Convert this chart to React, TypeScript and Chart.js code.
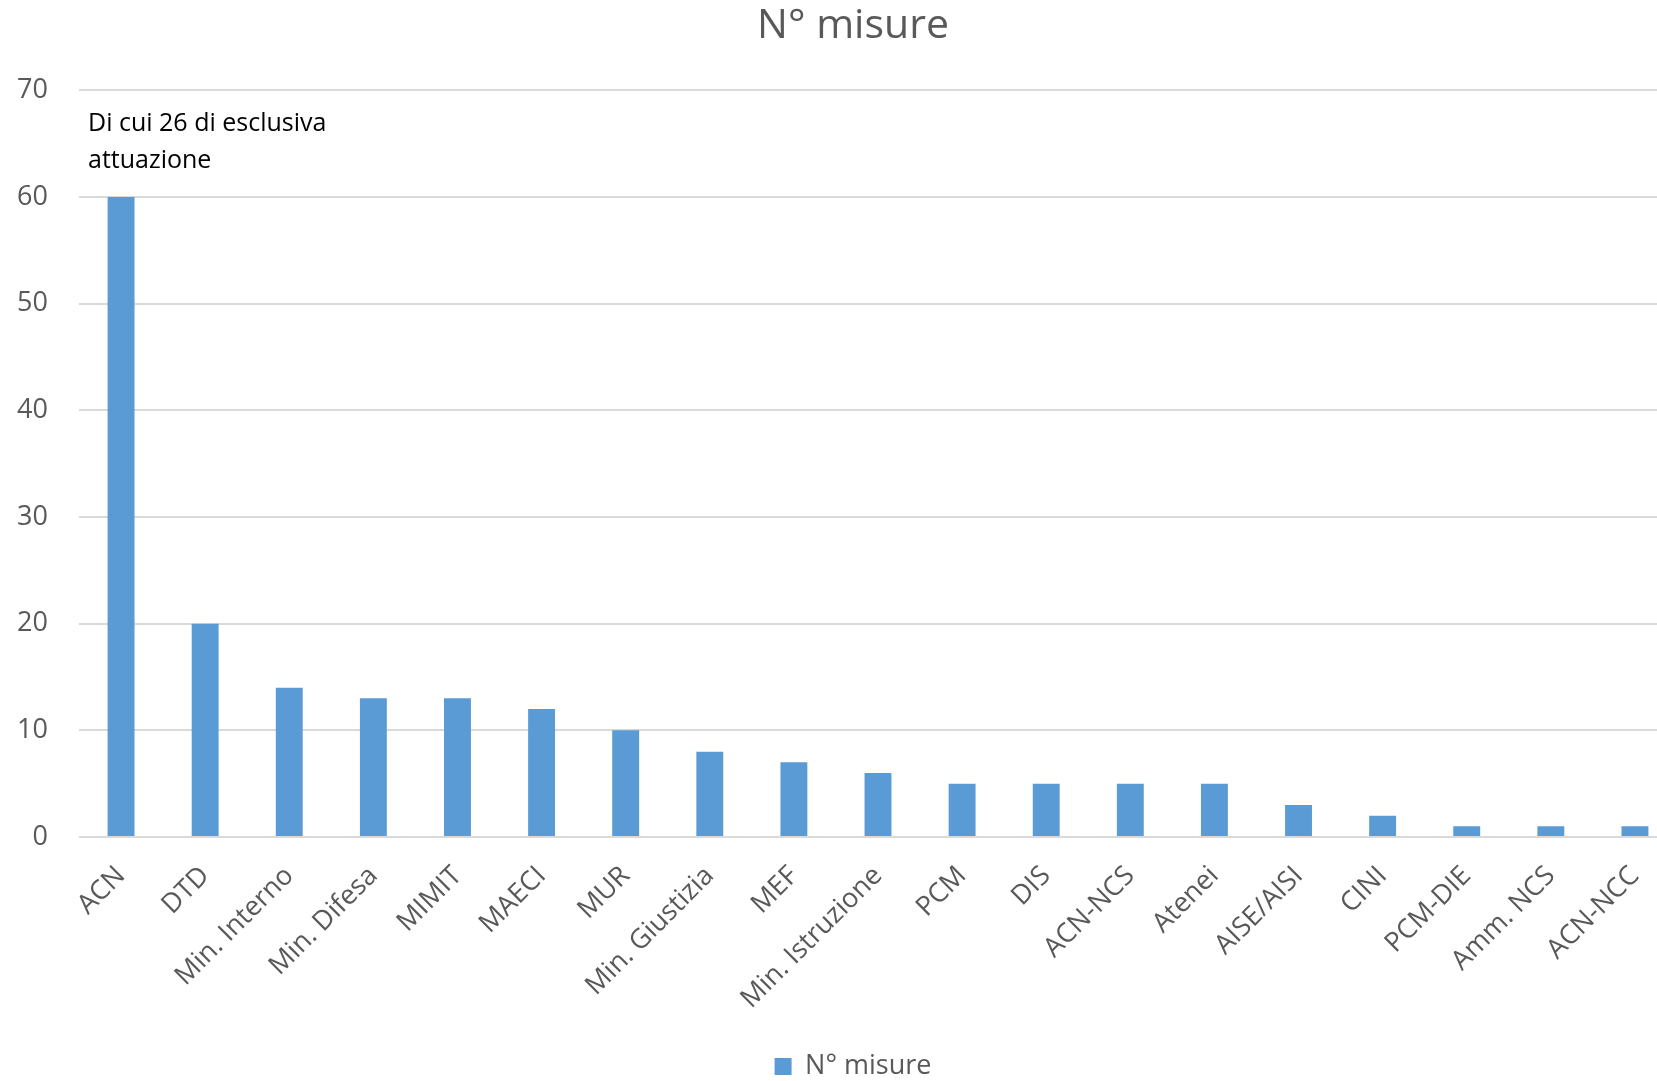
import React, { useEffect, useRef } from "react";
import { Chart, registerables } from "chart.js";

Chart.register(...registerables);

const categories = [
  "ACN",
  "DTD",
  "Min. Interno",
  "Min. Difesa",
  "MIMIT",
  "MAECI",
  "MUR",
  "Min. Giustizia",
  "MEF",
  "Min. Istruzione",
  "PCM",
  "DIS",
  "ACN-NCS",
  "Atenei",
  "AISE/AISI",
  "CINI",
  "PCM-DIE",
  "Amm. NCS",
  "ACN-NCC",
];
const misure = [60, 20, 14, 13, 13, 12, 10, 8, 7, 6, 5, 5, 5, 5, 3, 2, 1, 1, 1];
const seriesLabel = "N° misure";
const titleText = "N° misure";
const noteLines = ["Di cui 26 di esclusiva", "attuazione"];
const noteValues = [66.8, 63.4];
const yMin = 0;
const yMax = 70;
const yStep = 10;

const FONT = "'Open Sans', 'Noto Sans', sans-serif";
const GREY = "#595959";

const notePlugin = {
  id: "noteText",
  afterDatasetsDraw(chart: any) {
    const { ctx, chartArea, scales } = chart;
    const y = scales.y;
    ctx.save();
    ctx.font = `25px ${FONT}`;
    ctx.fillStyle = "#000000";
    ctx.textAlign = "left";
    ctx.textBaseline = "middle";
    noteLines.forEach((line, i) => {
      ctx.fillText(line, chartArea.left + 9, y.getPixelForValue(noteValues[i]));
    });
    ctx.restore();
  },
};

export default function App() {
  const canvasRef = useRef<HTMLCanvasElement | null>(null);

  useEffect(() => {
    document.body.style.margin = "0";
    document.body.style.overflow = "hidden";
    const canvas = canvasRef.current;
    if (!canvas) return;
    const chart = new Chart(canvas, {
      type: "bar",
      data: {
        labels: categories,
        datasets: [
          {
            label: seriesLabel,
            data: misure,
            backgroundColor: "#5b9bd5",
            borderWidth: 0,
            barPercentage: 0.32,
            categoryPercentage: 1,
          },
        ],
      },
      options: {
        responsive: false,
        animation: false,
        devicePixelRatio: 1,
        layout: { padding: 0 },
        plugins: {
          title: {
            display: true,
            text: titleText,
            color: GREY,
            font: { family: FONT, size: 41, weight: "normal" },
            padding: { top: 2, bottom: 39 },
          },
          legend: {
            display: true,
            position: "bottom",
            labels: {
              color: GREY,
              font: { family: FONT, size: 27 },
              boxWidth: 17,
              boxHeight: 17,
              padding: 4,
            },
          },
          tooltip: { enabled: false },
        },
        scales: {
          x: {
            grid: { display: false },
            border: { display: false },
            ticks: {
              color: GREY,
              font: { family: FONT, size: 27 },
              minRotation: 45,
              maxRotation: 45,
              autoSkip: false,
              padding: 15,
            },
            afterFit(scale: any) {
              scale.height = 212;
            },
          },
          y: {
            min: yMin,
            max: yMax,
            ticks: {
              stepSize: yStep,
              color: GREY,
              font: { family: FONT, size: 27 },
              padding: 31,
            },
            grid: { color: "#d9d9d9", lineWidth: 2, drawTicks: false },
            border: { display: false },
            afterFit(scale: any) {
              scale.width = 79;
            },
          },
          yRight: {
            position: "right",
            display: true,
            ticks: { display: false },
            grid: { display: false },
            border: { display: false },
            afterFit(scale: any) {
              scale.width = 29;
            },
          },
        },
      },
      plugins: [notePlugin],
    });
    return () => chart.destroy();
  }, []);

  return (
    <div
      style={{
        position: "fixed",
        left: 0,
        top: 0,
        width: 1657,
        height: 1081,
        overflow: "hidden",
        background: "#ffffff",
      }}
    >
      <canvas ref={canvasRef} width={1706} height={1090} style={{ display: "block" }} />
    </div>
  );
}
